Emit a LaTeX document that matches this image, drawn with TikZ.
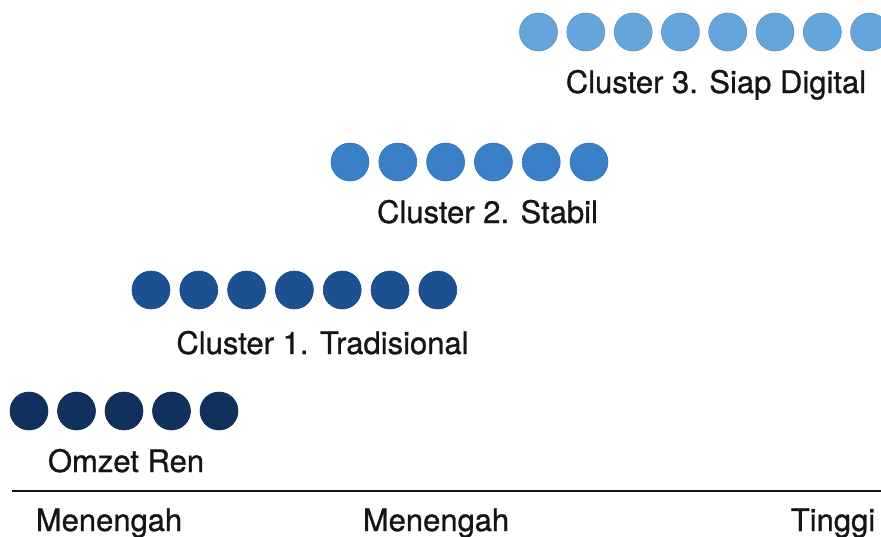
\documentclass[tikz,border=0pt]{standalone}
\usepackage{fontspec}
\setmainfont{TeX Gyre Heros}
\newfontfamily\medfont[FakeBold=0.9]{TeX Gyre Heros}
\definecolor{cthree}{HTML}{64A5DB}
\definecolor{ctwo}{HTML}{3A80C8}
\definecolor{cone}{HTML}{1B5091}
\definecolor{czero}{HTML}{10315E}
\definecolor{txt}{HTML}{151515}
\begin{document}
\begin{tikzpicture}[x=1pt,y=-1pt,
  dot/.style={circle,minimum size=38pt,inner sep=0pt,line width=0.6pt},
  lbl/.style={anchor=base,inner sep=0pt,text=txt,font=\medfont\fontsize{31}{36}\selectfont}]
\useasboundingbox (0,0) rectangle (881,536);
% Cluster 3
\foreach \i in {0,...,7}{
  \node[dot,fill=cthree,draw=cthree!90!black] (c3\i) at ({538.5+47.3*\i},32) {};
}
\node[lbl] (l3) at (716,93) {Cluster 3. Siap Digital};
% Cluster 2
\foreach \i in {0,...,5}{
  \node[dot,fill=ctwo,draw=ctwo!90!black] (c2\i) at ({350+47.8*\i},162) {};
}
\node[lbl] (l2) at (487.5,223) {Cluster 2. Stabil};
% Cluster 1
\foreach \i in {0,...,6}{
  \node[dot,fill=cone,draw=cone!90!black] (c1\i) at ({151+47.8*\i},290) {};
}
\node[lbl] (l1) at (322.5,354) {Cluster 1. Tradisional};
% Omzet Ren
\foreach \i in {0,...,4}{
  \node[dot,fill=czero,draw=czero!90!black] (c0\i) at ({29+47.5*\i},411) {};
}
\node[lbl] (l0) at (126,472) {Omzet Ren};
% axis
\coordinate (axl) at (12,491);
\coordinate (axr) at (881,491);
\draw[line width=2.2pt,color=txt] (axl) -- (axr);
\node[lbl] (b1) at (109,531) {Menengah};
\node[lbl] (b2) at (436,531) {Menengah};
\node[lbl] (b3) at (833,531) {Tinggi};
\end{tikzpicture}
\end{document}
